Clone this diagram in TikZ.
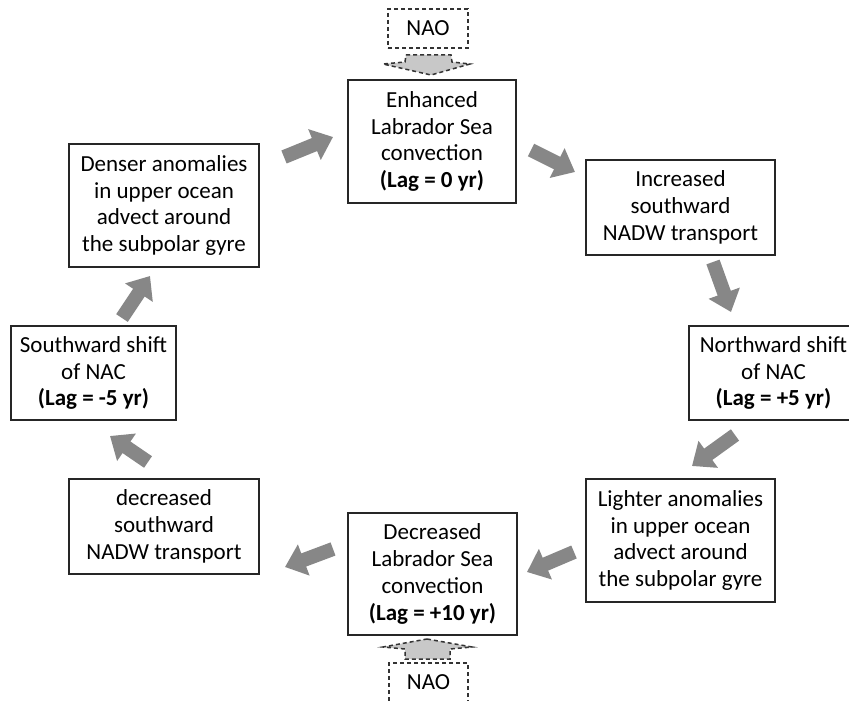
\documentclass[tikz,border=0pt]{standalone}
\usepackage{fontspec}
\setmainfont{Carlito}
\usetikzlibrary{arrows.meta}
\definecolor{arrowgray}{RGB}{135,135,135}
\definecolor{naofill}{RGB}{200,200,200}
\begin{document}
\begin{tikzpicture}[x=1pt,y=-1pt,
  box/.style={draw=black!85, line width=1.6pt, align=center, inner sep=0pt,
    font=\fontsize{23}{26.8}\selectfont},
  naobox/.style={draw=black!80, dash pattern=on 4pt off 3pt, line width=1.5pt,
    inner sep=0pt, minimum width=80pt, minimum height=39pt,
    font=\fontsize{23}{26.8}\selectfont},
  naoarrow/.style={draw=black!80, fill=naofill, dash pattern=on 4pt off 3pt, line width=1.5pt},
  flow/.style={line width=14pt, draw=arrowgray, -{Triangle[length=20pt,width=32pt]}},
]
\useasboundingbox (0,0) rectangle (849,701);
\fill[white] (0,0) rectangle (849,701);

\node[box, minimum width=168pt, minimum height=123pt] (b1) at (432,141.5)
  {Enhanced\\Labrador Sea\\convection\\\textbf{(Lag = 0 yr)}};
\node[box, minimum width=190pt, minimum height=123pt] (b2) at (164,205.5)
  {Denser anomalies\\in upper ocean\\advect around\\the subpolar gyre};
\node[box, minimum width=189pt, minimum height=95pt] (b3) at (680.5,207.5)
  {Increased\\southward\\NADW transport};
\node[box, minimum width=169pt, minimum height=94pt] (b4) at (773.5,373)
  {Northward shift\\of NAC\\\textbf{(Lag = +5 yr)}};
\node[box, minimum width=189pt, minimum height=123pt] (b5) at (680.5,540.5)
  {Lighter anomalies\\in upper ocean\\advect around\\the subpolar gyre};
\node[box, minimum width=169pt, minimum height=122pt] (b6) at (432.5,574)
  {Decreased\\Labrador Sea\\convection\\\textbf{(Lag = +10 yr)}};
\node[box, minimum width=190pt, minimum height=95pt] (b7) at (164,526.5)
  {decreased\\southward\\NADW transport};
\node[box, minimum width=165pt, minimum height=94pt] (b8) at (93.5,373)
  {Southward shift\\of NAC\\\textbf{(Lag = -5 yr)}};

\node[naobox] (nao1) at (428,28.5) {NAO};
\node[naobox, minimum width=79pt] (nao2) at (428.5,682.5) {NAO};

% NAO forcing arrows
\draw[naoarrow] (406,55) -- (451,55) -- (452,62) -- (470,64) -- (431,75)
  -- (383,64) -- (405,62) -- cycle;
\draw[naoarrow] (427,639) -- (472,647) -- (450,649) -- (450,659) -- (405,659)
  -- (405,649) -- (383,647) -- cycle;

% gray flow arrows
\coordinate (a1s) at (284,157); \coordinate (a1e) at (333,137);
\coordinate (a2s) at (531,150); \coordinate (a2e) at (575,172);
\coordinate (a3s) at (713,262); \coordinate (a3e) at (731,312);
\coordinate (a4s) at (735,435); \coordinate (a4e) at (692,466);
\coordinate (a5s) at (574,552); \coordinate (a5e) at (527,572);
\coordinate (a6s) at (333,549); \coordinate (a6e) at (285,567);
\coordinate (a7s) at (148,462); \coordinate (a7e) at (110,436);
\coordinate (a8s) at (122,318); \coordinate (a8e) at (150,276);
\draw[flow] (a1s) -- (a1e);
\draw[flow] (a2s) -- (a2e);
\draw[flow] (a3s) -- (a3e);
\draw[flow] (a4s) -- (a4e);
\draw[flow] (a5s) -- (a5e);
\draw[flow] (a6s) -- (a6e);
\draw[flow] (a7s) -- (a7e);
\draw[flow] (a8s) -- (a8e);
\end{tikzpicture}
\end{document}
